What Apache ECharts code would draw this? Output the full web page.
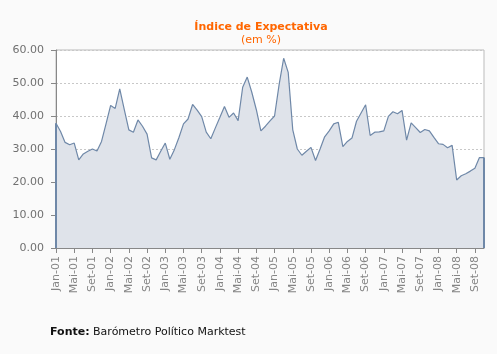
<!DOCTYPE html>
<html>
<head>
<meta charset="utf-8">
<script src="https://cdn.jsdelivr.net/npm/echarts@6/dist/echarts.min.js"></script>
<style>
  html, body { margin: 0; padding: 0; background: #fafafa; }
  #chart { width: 497px; height: 354px; }
</style>
</head>
<body>
<div id="chart"></div>
<script>
const monthNames = ["Jan", "Fev", "Mar", "Abr", "Mai", "Jun", "Jul", "Ago", "Set", "Out", "Nov", "Dez"]
const years = ["01", "02", "03", "04", "05", "06", "07", "08"]

// Índice de Expectativa, Jan-01 .. Nov-08
const values = [
  37.8, 35.3, 32.0, 31.3, 31.8, 26.7, 28.5, 29.3, 30.0, 29.4, 32.3, 37.7,
  43.2, 42.3, 48.2, 41.9, 35.8, 35.1, 38.8, 36.9, 34.5, 27.3, 26.7, 29.3,
  31.8, 26.9, 29.8, 33.5, 37.6, 39.1, 43.5, 41.8, 39.8, 35.1, 33.1, 36.4,
  39.6, 42.9, 39.6, 40.9, 38.6, 48.7, 51.8, 47.2, 41.9, 35.5, 36.9, 38.5,
  40.0, 49.5, 57.5, 53.2, 35.8, 30.0, 28.1, 29.3, 30.5, 26.5, 30.0, 33.7,
  35.5, 37.6, 38.1, 30.7, 32.3, 33.3, 38.4, 40.9, 43.4, 34.1, 35.1, 35.2,
  35.5, 39.9, 41.3, 40.7, 41.7, 32.7, 37.9, 36.5, 35.0, 35.9, 35.5, 33.5,
  31.6, 31.4, 30.4, 31.1, 20.6, 21.9, 22.5, 23.3, 24.2, 27.4, 27.4
]

const months = []
for (const y of years) {
  for (const m of monthNames) {
    if (months.length < values.length) months.push(m + "-" + y)
  }
}

const chart = echarts.init(document.getElementById("chart"))

const lineColor = "#6f88a8"
const labelFont = "DejaVu Sans"

const option = {
  backgroundColor: "#fafafa",
  animation: false,
  title: {
    text: "Índice de Expectativa",
    subtext: "(em %)",
    left: 256,
    top: 17,
    textAlign: "center",
    itemGap: 2,
    textStyle: { color: "#ff6600", fontSize: 11, fontWeight: "bold", fontFamily: labelFont },
    subtextStyle: { color: "#ff6600", fontSize: 11, fontFamily: labelFont },
  },
  grid: {
    left: 56,
    right: 13,
    top: 50,
    height: 198,
    show: true,
    backgroundColor: "#ffffff",
    borderColor: "#bbbbbb",
    borderWidth: 1,
  },
  xAxis: {
    type: "category",
    data: months,
    boundaryGap: false,
    axisLine: { lineStyle: { color: "#888888", width: 1 } },
    axisTick: { interval: 3, length: 5, lineStyle: { color: "#888888" } },
    axisLabel: {
      interval: 3,
      rotate: 90,
      margin: 8,
      color: "#858585",
      fontSize: 11,
      fontFamily: labelFont,
    },
  },
  yAxis: {
    type: "value",
    min: 0,
    max: 60,
    interval: 10,
    axisLine: { show: true, lineStyle: { color: "#888888", width: 1 } },
    axisTick: { show: true, length: 5, lineStyle: { color: "#888888" } },
    axisLabel: {
      formatter: (v) => v.toFixed(2),
      margin: 12,
      color: "#707070",
      fontSize: 11,
      fontFamily: labelFont,
    },
    splitLine: { lineStyle: { color: "#c8c8c8", type: [2, 2] } },
  },
  series: [
    {
      type: "line",
      data: values,
      symbol: "none",
      z: 3,
      lineStyle: { color: lineColor, width: 1.2 },
      areaStyle: { color: "#dfe3ea", opacity: 1 },
      markLine: {
        silent: true,
        symbol: "none",
        label: { show: false },
        lineStyle: { color: lineColor, width: 2, type: "solid" },
        data: [
          [{ coord: [months[0], 0] }, { coord: [months[0], values[0]] }],
          [{ coord: [months[months.length - 1], 0] }, { coord: [months[months.length - 1], values[values.length - 1]] }],
        ],
      },
    },
  ],
  graphic: [
    {
      type: "text",
      left: 50,
      top: 327,
      style: {
        text: "{b|Fonte:} Barómetro Político Marktest",
        fontSize: 11,
        fontFamily: labelFont,
        fill: "#111111",
        rich: {
          b: { fontWeight: "bold", fontSize: 11, fontFamily: labelFont, fill: "#111111" },
        },
      },
    },
  ],
}

chart.setOption(option)

window.addEventListener("resize", () => chart.resize())
</script>
</body>
</html>
